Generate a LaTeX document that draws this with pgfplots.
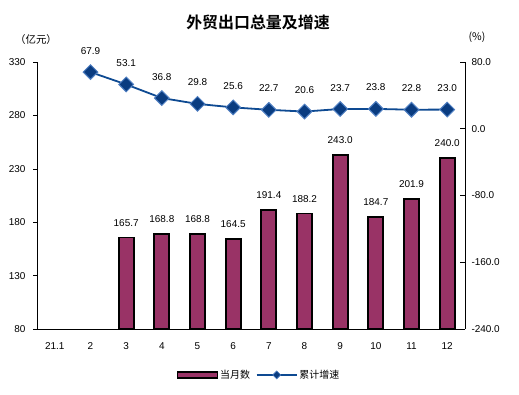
\documentclass[border=0pt]{standalone}
\usepackage{pgfplots}
\pgfplotsset{compat=1.18}
\usepackage{fontspec}
\setmainfont{Liberation Sans}
\newfontfamily\cjk{Noto Sans CJK SC}[BoldFont={Noto Sans CJK SC Bold}]
\definecolor{barc}{HTML}{993366}
\definecolor{linec}{HTML}{0E4A92}
\definecolor{markf}{HTML}{0A3C80}
\definecolor{marke}{HTML}{4F7FC2}
\begin{document}
\begin{tikzpicture}[x=1bp,y=1bp]
\path[use as bounding box] (0,0) rectangle (519,394);
\begin{axis}[
  at={(37bp,65bp)}, anchor=south west,
  scale only axis, width=428bp, height=267bp,
  xmin=-0.5, xmax=11.5, ymin=80, ymax=330,
  ytick={80,130,180,230,280,330},
  axis x line*=bottom, axis y line*=left,
  axis line style={black, line width=0.8bp},
  xtick={0,...,11},
  xticklabels={21.1,2,3,4,5,6,7,8,9,10,11,12},
  major x tick style={draw=none},
  extra x ticks={0.5,1.5,...,10.5},
  extra x tick labels={},
  extra x tick style={major tick length=5bp, tick align=inside, tick style={draw=black,line width=0.6bp}},
  ytick align=outside, major tick length=4bp,
  y tick style={black, line width=0.6bp},
  tick label style={font=\fontsize{10}{12}\selectfont},
  yticklabel style={xshift=-4bp},
  xticklabel style={yshift=-6bp},
  ybar, bar width=15bp,
  nodes near coords,
  nodes near coords style={text=black, font=\fontsize{10}{12}\selectfont, /pgf/number format/fixed, /pgf/number format/precision=1, /pgf/number format/fixed zerofill, yshift=7bp},
  /pgf/number format/assume math mode=true,
]
\addplot[fill=barc, draw=black, line width=1.8bp] coordinates {
(2,165.7) (3,168.8) (4,168.8) (5,164.5) (6,191.4) (7,188.2) (8,243.0) (9,184.7) (10,201.9) (11,240.0)};
\end{axis}
\begin{axis}[
  at={(37bp,65bp)}, anchor=south west,
  scale only axis, width=428bp, height=267bp,
  xmin=-0.5, xmax=11.5, ymin=-240, ymax=80,
  ytick={-240,-160,-80,0,80},
  axis x line=none, axis y line*=right,
  axis line style={black, line width=0.8bp},
  ytick align=inside, major tick length=5bp,
  y tick style={black, line width=0.6bp},
  yticklabel style={font=\fontsize{10}{12}\selectfont, /pgf/number format/fixed, /pgf/number format/precision=1, /pgf/number format/fixed zerofill, xshift=3bp},
  /pgf/number format/assume math mode=true,
  nodes near coords,
  nodes near coords style={text=black, font=\fontsize{10}{12}\selectfont, /pgf/number format/fixed, /pgf/number format/precision=1, /pgf/number format/fixed zerofill, yshift=14bp},
  legend style={at={(0.5187,-0.172)}, anchor=center, draw=none, fill=none, font=\cjk\fontsize{10}{12}\selectfont, legend columns=2, /tikz/every even column/.append style={column sep=4bp}},
]
\addlegendimage{legend image code/.code={\draw[fill=barc, draw=black, line width=1.4bp] (0bp,-3bp) rectangle (40bp,3bp);}}
\addlegendentry{当月数}
\addplot[color=linec, line width=1.8bp, mark=square*, mark size=5.2bp, mark options={rotate=45, fill=markf, draw=marke, line width=1bp},
  legend image code/.code={\draw[linec, line width=1.4bp] (0bp,0bp) -- (40bp,0bp); \draw[fill=markf, draw=marke, line width=0.6bp] (20bp,4bp) -- (24bp,0bp) -- (20bp,-4bp) -- (16bp,0bp) -- cycle;}] coordinates {
(1,67.9) (2,53.1) (3,36.8) (4,29.8) (5,25.6) (6,22.7) (7,20.6) (8,23.7) (9,23.8) (10,22.8) (11,23.0)};
\addlegendentry{累计增速}
\end{axis}
\node[font=\cjk\bfseries\fontsize{16}{18}\selectfont] at (258,372) {外贸出口总量及增速};
\node[font=\cjk\fontsize{10.5}{12}\selectfont] at (36,354) {（亿元）};
\node[font=\cjk\fontsize{10.5}{12}\selectfont] at (477,357) {(\%)};
\end{tikzpicture}
\end{document}
